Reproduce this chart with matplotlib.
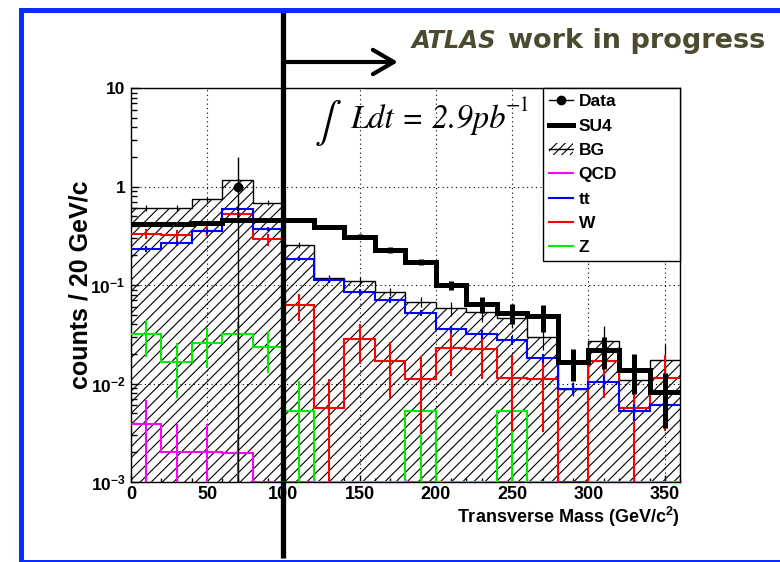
import matplotlib.pyplot as plt
import numpy as np
from matplotlib.lines import Line2D
from matplotlib.patches import Patch, Rectangle
from matplotlib.transforms import blended_transform_factory
from matplotlib.ticker import FixedLocator, FixedFormatter

plt.rcParams['font.family'] = ['Liberation Sans', 'DejaVu Sans']
plt.rcParams['font.weight'] = 'bold'
plt.rcParams['axes.labelweight'] = 'bold'
plt.rcParams['mathtext.fontset'] = 'custom'
plt.rcParams['mathtext.rm'] = 'Liberation Sans:bold'
plt.rcParams['mathtext.bf'] = 'Liberation Sans:bold'
plt.rcParams['mathtext.it'] = 'Liberation Sans:bold:italic'
plt.rcParams['hatch.linewidth'] = 0.8

# binning: 20 GeV bins from 0 to 360
edges = np.arange(0, 380, 20)
centers = edges[:-1] + 10

# values (counts / 20 GeV)
qcd = [0.0039, 0.0020, 0.0020, 0.00195, 0, 0, 0, 0, 0, 0, 0, 0, 0, 0, 0, 0, 0, 0]
qcd_err = [0.0029, 0.0019, 0.0019, 0.0011, 0, 0, 0, 0, 0, 0, 0, 0, 0, 0, 0, 0, 0, 0]
tt = [0.232, 0.265, 0.350, 0.595, 0.370, 0.184, 0.112, 0.0843, 0.0705, 0.0524,
      0.0355, 0.0316, 0.0277, 0.0180, 0.0089, 0.0103, 0.0052, 0.0060]
tt_err = [0.015, 0.015, 0.018, 0.025, 0.018, 0.010, 0.007, 0.006, 0.005, 0.004,
          0.003, 0.003, 0.003, 0.002, 0.0013, 0.0015, 0.001, 0.001]
w = [0.330, 0.319, 0.353, 0.526, 0.291, 0.0626, 0.0056, 0.0281, 0.0169, 0.0111,
     0.0228, 0.0222, 0.0113, 0.0110, 0, 0.0169, 0.0057, 0.0113]
w_err = [0.040, 0.040, 0.040, 0.030, 0.040, 0.019, 0.0056, 0.0125, 0.0097, 0.008,
         0.011, 0.011, 0.008, 0.0078, 0, 0.0098, 0.0057, 0.008]
z = [0.0316, 0.0164, 0.0256, 0.0316, 0.0233, 0.0053, 0, 0, 0, 0.0053,
     0, 0, 0.0053, 0, 0, 0, 0, 0]
z_err = [0.0128, 0.0092, 0.0113, 0.0105, 0.0105, 0.0053, 0, 0, 0, 0.0053,
         0, 0, 0.0053, 0, 0, 0, 0, 0]
bg = [0.609, 0.605, 0.741, 1.164, 0.685, 0.255, 0.117, 0.111, 0.0855, 0.0677,
      0.058, 0.0536, 0.0459, 0.0299, 0.0089, 0.027, 0.0109, 0.0174]
bg_err = [0.040, 0.040, 0.040, 0.045, 0.040, 0.020, 0.008, 0.010, 0.008, 0.008,
          0.010, 0.011, 0.009, 0.008, 0.0015, 0.011, 0.006, 0.008]
su4 = [0.420, 0.420, 0.430, 0.460, 0.460, 0.460, 0.390, 0.310, 0.227, 0.172,
       0.100, 0.064, 0.052, 0.048, 0.0166, 0.022, 0.0138, 0.0082]
su4_err = [0.020, 0.020, 0.020, 0.020, 0.020, 0.020, 0.018, 0.016, 0.014, 0.012,
           0.010, 0.012, 0.012, 0.015, 0.006, 0.008, 0.006, 0.0047]
data = [0, 0, 0, 1, 0, 0, 0, 0, 0, 0, 0, 0, 0, 0, 0, 0, 0, 0]
data_err = [0, 0, 0, 1, 0, 0, 0, 0, 0, 0, 0, 0, 0, 0, 0, 0, 0, 0]

cut_value = 100  # transverse mass cut
ymin, ymax = 1e-3, 10

fig = plt.figure(figsize=(7.8, 5.62), dpi=100)
ax = fig.add_axes([0.1679, 0.1423, 0.7039, 0.7011])
ax.set_yscale('log')
ax.set_xlim(0, 360)
ax.set_ylim(ymin, ymax)


def floor(v):
    # empty bins sit on the bottom of the log axis, like ROOT does
    return np.maximum(np.asarray(v, float), ymin)


# background sum, hatched
ax.stairs(floor(bg), edges, baseline=1e-5, fill=True, facecolor='none',
          edgecolor='black', hatch='///', linewidth=0, zorder=1)
ax.stairs(floor(bg), edges, baseline=None, color='black', linewidth=1.0, zorder=2)

series = [(bg, bg_err, 'black', 0.9), (qcd, qcd_err, '#ff00ff', 1.5),
          (z, z_err, '#00ee00', 1.5), (w, w_err, '#ff0000', 1.5),
          (tt, tt_err, '#0000ff', 1.5)]
for vals, errs, col, lw in series:
    vals = np.asarray(vals, float)
    errs = np.asarray(errs, float)
    if col != 'black':
        ax.stairs(floor(vals), edges, baseline=None, color=col, linewidth=lw, zorder=3)
    m = errs > 0
    ax.errorbar(centers[m], vals[m], yerr=errs[m], fmt='none', ecolor=col,
                elinewidth=lw, capsize=0, zorder=3)

# signal
ax.stairs(floor(su4), edges, baseline=None, color='black', linewidth=3.6, zorder=4)
ax.errorbar(centers, su4, yerr=su4_err, fmt='none', ecolor='black',
            elinewidth=3.6, capsize=0, zorder=4)

# data
d = np.asarray(data, float)
de = np.asarray(data_err, float)
m = d > 0
ax.errorbar(centers[m], d[m], yerr=de[m], fmt='o', color='black', ms=6,
            elinewidth=1, capsize=0, zorder=5)

# axes styling
ax.grid(True, which='major', color='black', linestyle=(0, (1, 3)), linewidth=0.8, zorder=0)
ax.set_axisbelow(True)
ax.xaxis.set_major_locator(FixedLocator(np.arange(0, 400, 50)))
ax.xaxis.set_minor_locator(FixedLocator(np.arange(0, 361, 10)))
ax.yaxis.set_major_locator(FixedLocator([1e-3, 1e-2, 1e-1, 1, 10]))
ax.yaxis.set_major_formatter(FixedFormatter([r'$\mathbf{10^{-3}}$', r'$\mathbf{10^{-2}}$',
                                             r'$\mathbf{10^{-1}}$', '1', '10']))
minors = [k * 10.0 ** e for e in range(-3, 1) for k in range(2, 10)]
ax.yaxis.set_minor_locator(FixedLocator(minors))
ax.yaxis.set_minor_formatter(FixedFormatter([''] * len(minors)))
ax.tick_params(axis='both', which='both', direction='in', top=False, right=False,
               labelsize=13, width=1)
ax.tick_params(axis='y', which='major', length=6, pad=4, labelsize=12.5)
ax.tick_params(axis='y', which='minor', length=4)
ax.tick_params(axis='x', which='major', length=5, pad=3)
ax.tick_params(axis='x', which='minor', length=3)
for s in ax.spines.values():
    s.set_linewidth(1.0)

ax.set_xlabel('Transverse Mass (GeV/c$^{\\mathbf{2}}$)', fontsize=13, loc='right', labelpad=1)
ax.set_ylabel('counts / 20 GeV/c', fontsize=18)
ax.yaxis.set_label_coords(-0.07, 0.5)

# legend
handles = [Line2D([], [], color='black', marker='o', ms=6, lw=1),
           Line2D([], [], color='black', lw=3.6),
           (Patch(facecolor='white', edgecolor='black', hatch='////', lw=0),
            Line2D([], [], color='black', lw=1)),
           Line2D([], [], color='#ff00ff', lw=1.5),
           Line2D([], [], color='#0000ff', lw=1.5),
           Line2D([], [], color='#ff0000', lw=1.5),
           Line2D([], [], color='#00ee00', lw=1.5)]
labels = ['Data', 'SU4', 'BG', 'QCD', 'tt', 'W', 'Z']
leg = ax.legend(handles, labels, loc='upper left', bbox_to_anchor=(0.7505, 0, 0.2495, 1.0),
                mode='expand', borderaxespad=0, fancybox=False, framealpha=1,
                edgecolor='black', prop={'size': 12.5, 'weight': 'bold'},
                handlelength=1.4, handletextpad=0.3, labelspacing=0.53, borderpad=0.35)
leg.get_frame().set_linewidth(1.0)
leg.set_zorder(6)

# luminosity
ax.text(0.335, 0.97, '\u222b', transform=ax.transAxes, fontsize=29, weight='normal',
        family='STIXGeneral', va='top', ha='left')
lumi = ax.text(0.399, 0.8985, 'Ldt = 2.9pb', transform=ax.transAxes, fontsize=23.5,
               family='STIXGeneral', style='italic', weight='normal', va='baseline', ha='left')
ax.annotate('\u22121', xy=(1.0, 0.62), xycoords=lumi, fontsize=15, family='STIXGeneral',
            weight='normal', va='bottom', ha='left')

# cut line and arrow, outside the frame
tr = blended_transform_factory(ax.transData, fig.transFigure)
ax.plot([cut_value, cut_value], [1 - 558 / 562, 1 - 12 / 562], transform=tr, color='black',
        lw=3.8, clip_on=False, zorder=10, solid_capstyle='butt')
ax.annotate('', xy=(175, 1 - 62 / 562), xycoords=tr, xytext=(cut_value, 1 - 62 / 562),
            textcoords=tr, arrowprops=dict(arrowstyle='->,head_length=0.6,head_width=0.35',
                                           lw=3, color='black', mutation_scale=25,
                                           shrinkA=0, shrinkB=0), zorder=10)

# header
fig.text(412 / 780, 1 - 48 / 562, 'ATLAS', fontsize=17.5, family='DejaVu Sans', weight='bold',
         style='italic', color='#4d4a30', va='baseline', ha='left')
fig.text(765 / 780, 1 - 48 / 562, 'work in progress', fontsize=19.5, family='DejaVu Sans',
         weight='bold', color='#4d4a30', va='baseline', ha='right')

# blue outer frame
fig.add_artist(Rectangle((20.5 / 780, 0.5 / 562), 1.1, 552 / 562, transform=fig.transFigure,
                         fill=False, edgecolor='#0a2cff', lw=3.6, clip_on=False))

fig.savefig('out.png', dpi=100)
